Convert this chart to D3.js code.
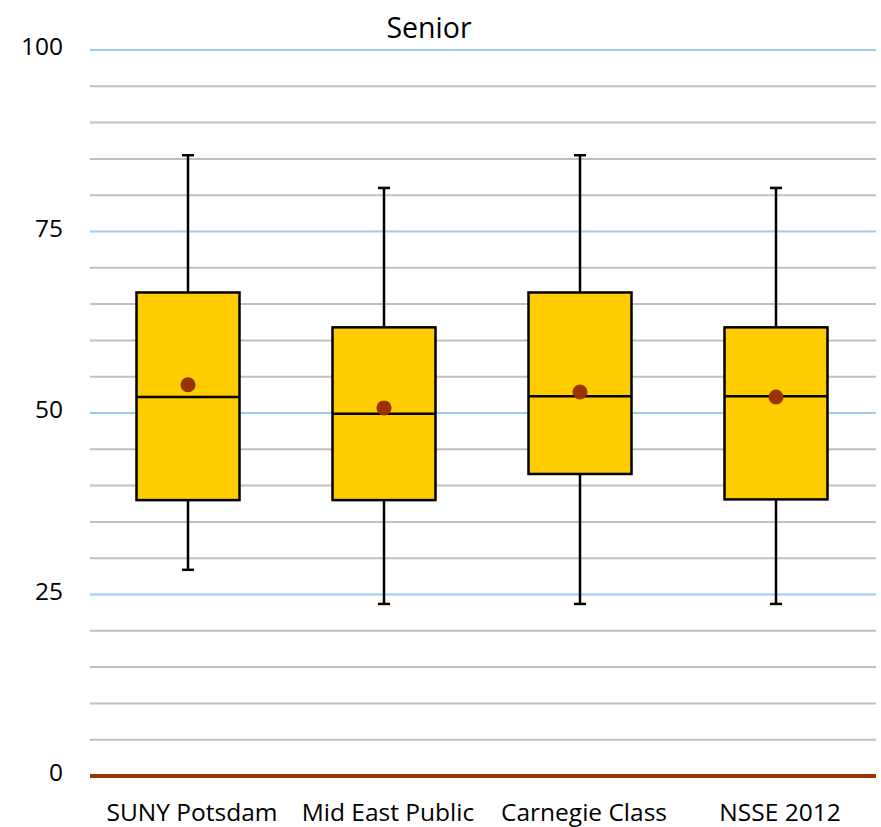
<!DOCTYPE html>
<html><head><meta charset="utf-8">
<script src="https://cdn.jsdelivr.net/npm/d3@7"></script>
<style>body{margin:0;background:#fff}svg{display:block}text{font-family:"Open Sans",sans-serif;fill:#000}</style>
</head><body><svg id="c" width="881" height="827"></svg>
<script>
const categories = ["SUNY Potsdam","Mid East Public","Carnegie Class","NSSE 2012"];
const whiskerLow = [28.4, 23.7, 23.7, 23.7];
const q1 = [38.0, 38.0, 41.6, 38.1];
const median = [52.2, 49.9, 52.3, 52.3];
const q3 = [66.6, 61.8, 66.6, 61.8];
const whiskerHigh = [85.5, 81.0, 85.5, 81.0];
const mean = [53.9, 50.7, 52.9, 52.2];
const yTicks = [0, 25, 50, 75, 100];
const title = "Senior";

const svg = d3.select("#c");
const x = d3.scaleBand().domain(categories).range([90, 874]).padding(0);
const y = d3.scaleLinear().domain([0, 100]).range([776, 50]);

// gridlines
const grid = d3.range(5, 101, 5);
svg.append("g").selectAll("line").data(grid).join("line")
  .attr("x1", 90).attr("x2", 876)
  .attr("y1", d => y(d)).attr("y2", d => y(d))
  .attr("stroke", d => d % 25 === 0 ? "#9DCBF5" : "#C0C0C0")
  .attr("stroke-width", 2);

// y axis labels
const yAxis = d3.axisLeft(y).tickValues(yTicks).tickSize(0).tickPadding(0);
const ya = svg.append("g").attr("transform", "translate(63,-3)").call(yAxis);
ya.select(".domain").remove();
ya.selectAll("text").attr("font-size", 24.5).attr("font-family", "Open Sans").attr("fill", "#000");

// x axis labels
const xAxis = d3.axisBottom(x).tickSize(0).tickPadding(0);
const xa = svg.append("g").attr("transform", "translate(4,0)").call(xAxis);
xa.select(".domain").remove();
xa.selectAll("text").attr("font-size", 24.5).attr("font-family", "Open Sans").attr("fill", "#000")
  .attr("y", 821).attr("dy", null);

const bw = 103;
const g = svg.append("g");
categories.forEach((c, i) => {
  const cx = x(c) + x.bandwidth() / 2;
  g.append("line").attr("x1", cx).attr("x2", cx).attr("y1", y(whiskerHigh[i])).attr("y2", y(whiskerLow[i]))
    .attr("stroke", "#000").attr("stroke-width", 2.5);
  [whiskerHigh[i], whiskerLow[i]].forEach(v => {
    g.append("line").attr("x1", cx - 6).attr("x2", cx + 6).attr("y1", y(v)).attr("y2", y(v))
      .attr("stroke", "#000").attr("stroke-width", 2.5);
  });
  g.append("rect").attr("x", cx - bw / 2).attr("width", bw)
    .attr("y", y(q3[i])).attr("height", y(q1[i]) - y(q3[i]))
    .attr("fill", "#FFCC00").attr("stroke", "#000").attr("stroke-width", 2.5);
  g.append("line").attr("x1", cx - bw / 2).attr("x2", cx + bw / 2).attr("y1", y(median[i])).attr("y2", y(median[i]))
    .attr("stroke", "#000").attr("stroke-width", 2.5);
  g.append("circle").attr("cx", cx).attr("cy", y(mean[i])).attr("r", 7.5).attr("fill", "#993300");
});

// baseline
svg.append("line").attr("x1", 90).attr("x2", 876).attr("y1", y(0)).attr("y2", y(0))
  .attr("stroke", "#993300").attr("stroke-width", 4);

svg.append("text").attr("x", 429).attr("y", 38).attr("text-anchor", "middle")
  .attr("font-size", 28.5).text(title);
</script></body></html>
